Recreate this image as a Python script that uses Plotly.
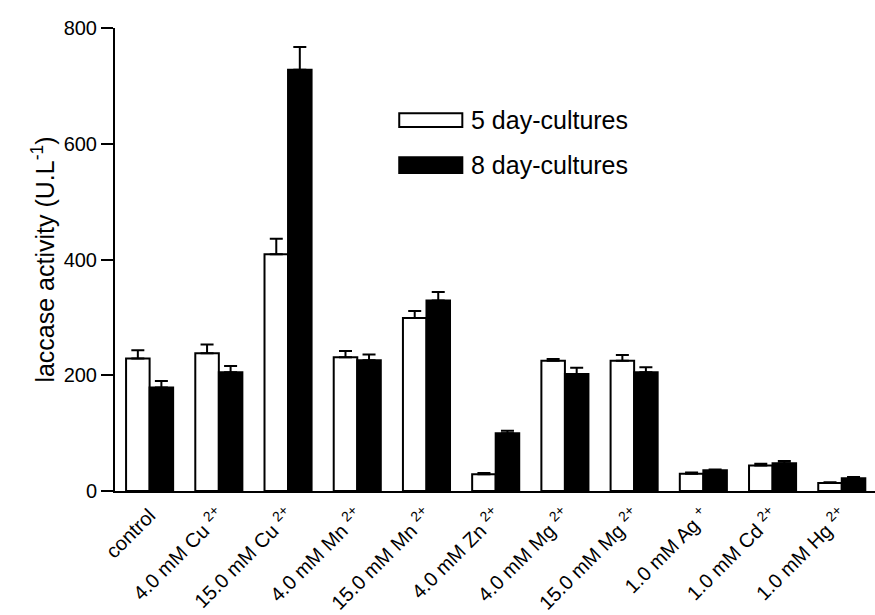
import plotly.graph_objects as go

categories = [
    "control",
    "4.0 mM Cu <sup>2+</sup>",
    "15.0 mM Cu <sup>2+</sup>",
    "4.0 mM Mn <sup>2+</sup>",
    "15.0 mM Mn <sup>2+</sup>",
    "4.0 mM Zn <sup>2+</sup>",
    "4.0 mM Mg <sup>2+</sup>",
    "15.0 mM Mg <sup>2+</sup>",
    "1.0 mM Ag <sup>+</sup>",
    "1.0 mM Cd <sup>2+</sup>",
    "1.0 mM Hg <sup>2+</sup>",
]
day5 = [229, 238, 409, 231, 299, 29, 225, 225, 30, 44, 14]
day5_err = [14, 15, 27, 11, 12, 2, 3, 10, 2, 3, 1]
day8 = [179, 205, 728, 226, 329, 100, 202, 205, 36, 48, 22]
day8_err = [11, 11, 39, 10, 15, 4, 11, 9, 1, 4, 2]
series_names = ["5 day-cultures", "8 day-cultures"]
y_ticks = [0, 200, 400, 600, 800]

FONT = "Liberation Sans, Arial, Helvetica, sans-serif"

fig = go.Figure()
for name, vals, errs, color in [
    (series_names[0], day5, day5_err, "white"),
    (series_names[1], day8, day8_err, "black"),
]:
    fig.add_trace(go.Bar(
        x=categories, y=vals, name=name,
        marker=dict(color=color, line=dict(color="black", width=2)),
        error_y=dict(type="data", array=errs, arrayminus=[0] * len(errs),
                     symmetric=False, color="black", thickness=2, width=6.5),
        showlegend=False,
    ))

# legend drawn as wide swatches
legend_items = [
    (series_names[0], "white", 0.816, 0.786, 0.801),
    (series_names[1], "black", 0.721, 0.687, 0.704),
]
for text, color, y1, y0, yc in legend_items:
    fig.add_shape(type="rect", xref="paper", yref="paper",
                  x0=0.374, x1=0.457, y0=y0, y1=y1,
                  fillcolor=color, line=dict(color="black", width=2))
    fig.add_annotation(xref="paper", yref="paper", x=0.466, y=yc,
                       text=text, showarrow=False, xanchor="left", yanchor="middle",
                       font=dict(family=FONT, size=25, color="black"))

fig.update_layout(
    width=875, height=615,
    margin=dict(l=115, r=0, t=28, b=124),
    paper_bgcolor="white", plot_bgcolor="white",
    barmode="group", bargap=0.32, bargroupgap=0,
    font=dict(family=FONT, color="black"),
)
fig.update_xaxes(
    range=[-0.5, 10.48], showline=True, linecolor="black", linewidth=2,
    ticks="outside", ticklen=3, tickcolor="rgba(0,0,0,0)",
    tickangle=-45, tickfont=dict(family=FONT, size=20, color="black"),
    showgrid=False, zeroline=False, automargin=False,
)
fig.update_yaxes(
    range=[0, 800], tickvals=y_ticks, showline=True, linecolor="black", linewidth=2,
    ticks="outside", ticklen=12, tickwidth=2, tickcolor="black",
    tickfont=dict(family=FONT, size=20, color="black"),
    title=dict(text="laccase activity (U.L<sup>-1</sup>)", standoff=2,
               font=dict(family=FONT, size=25, color="black")),
    showgrid=False, zeroline=False, automargin=False,
)

fig.write_html("out.html", config={"displayModeBar": False},
               post_script="document.body.style.margin='0px';")
